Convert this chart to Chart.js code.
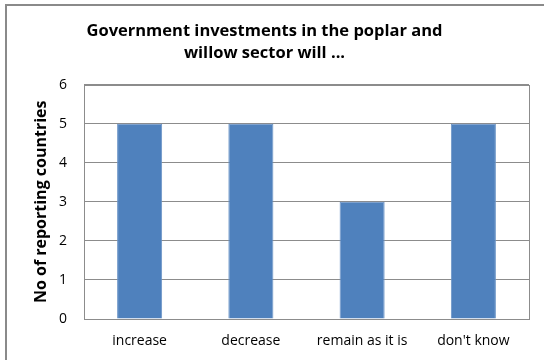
<!DOCTYPE html>
<html>
<head>
<meta charset="utf-8">
<script src="https://cdn.jsdelivr.net/npm/chart.js@4"></script>
<style>
  html, body { margin: 0; padding: 0; background: #fff; overflow: hidden; }
  #wrap { position: relative; width: 544px; height: 360px; }
  #frame { position: absolute; left: 5px; top: 4px; width: 600px; height: 400px; border: 2px solid #8a8a8a; box-sizing: border-box; }
  canvas { position: absolute; left: 0; top: 0; }
</style>
</head>
<body>
<div id="wrap">
  <div id="frame"></div>
  <canvas id="grafico" width="544" height="360"></canvas>
</div>
<script>
const categorias = ['increase', 'decrease', 'remain as it is', "don't know"];
const paises = [5, 5, 3, 5];
const titulo = ['Government investments in the poplar and', 'willow sector will ...'];
const tituloY = 'No of reporting countries';

// borde gris alrededor del area del grafico
const bordeArea = {
  id: 'bordeArea',
  afterDraw(chart) {
    const { ctx, chartArea: a } = chart;
    ctx.save();
    ctx.strokeStyle = '#8c8c8c';
    ctx.lineWidth = 1;
    ctx.strokeRect(Math.round(a.left) + 0.5, Math.round(a.top) + 0.5, Math.round(a.right - a.left), Math.round(a.bottom - a.top));
    ctx.restore();
  }
};

const ctx = document.getElementById('grafico');
new Chart(ctx, {
  type: 'bar',
  data: {
    labels: categorias,
    datasets: [{
      label: 'Countries',
      data: paises,
      backgroundColor: '#4f81bd',
      borderColor: '#6b94c7',
      borderWidth: 1,
      categoryPercentage: 1,
      barPercentage: 0.405
    }]
  },
  options: {
    responsive: false,
    animation: false,
    layout: { padding: { left: 0, right: 15, top: 0, bottom: 0 } },
    plugins: {
      legend: { display: false },
      tooltip: { enabled: false },
      title: {
        display: true,
        text: titulo,
        color: '#000',
        font: { family: 'Open Sans', size: 16.5, weight: 'bold', lineHeight: 1.35 },
        padding: { top: 20, bottom: 20 }
      }
    },
    scales: {
      x: {
        grid: { display: false, drawTicks: false },
        border: { display: true, color: '#8c8c8c' },
        ticks: { color: '#000', font: { family: 'Open Sans', size: 14 }, padding: 14, maxRotation: 0 },
        afterFit(scale) { scale.height = 41; }
      },
      y: {
        min: 0,
        max: 6,
        ticks: { stepSize: 1, color: '#000', font: { family: 'Open Sans', size: 14 }, padding: 17 },
        grid: { color: '#8c8c8c', drawTicks: false },
        border: { display: true, color: '#8c8c8c' },
        title: {
          display: true,
          text: tituloY,
          color: '#000',
          font: { family: 'Open Sans', size: 16, weight: 'bold' },
          padding: { top: 32, bottom: 0 }
        },
        afterFit(scale) { scale.width = 84; }
      }
    }
  },
  plugins: [bordeArea]
});
</script>
</body>
</html>
